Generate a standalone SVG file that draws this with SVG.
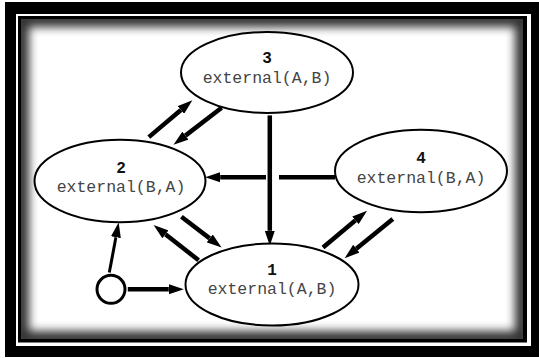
<svg xmlns="http://www.w3.org/2000/svg" width="539" height="358" viewBox="0 0 539 358">
  <style>
    .node ellipse { fill: #fff; stroke: #000; stroke-width: 2; }
    .num { font-family: "Liberation Mono", "DejaVu Sans Mono", monospace; font-size: 16px; font-weight: bold; fill: #111; text-anchor: middle; }
    .lbl { font-family: "Liberation Mono", "DejaVu Sans Mono", monospace; font-size: 16.5px; fill: #444; text-anchor: middle; }
    .edge { fill: none; stroke: #000; stroke-width: 4.5; marker-end: url(#ah); }
    .thin { stroke-width: 3; }
  </style>
  <defs>
    <marker id="ah" markerUnits="userSpaceOnUse" markerWidth="15" markerHeight="10" refX="0" refY="5" orient="auto">
      <path d="M0,0 L15,5 L0,10 z" fill="#000"/>
    </marker>
    <clipPath id="innerClip"><rect x="21" y="19" width="502" height="320"/></clipPath>
    <filter id="blur" x="-10%" y="-10%" width="120%" height="120%"><feGaussianBlur stdDeviation="5"/></filter>
  </defs>

  <!-- frame -->
  <g id="frame">
    <rect x="0" y="0" width="539" height="358" fill="#fff"/>
    <rect x="5" y="2" width="534" height="355" fill="#000"/>
    <rect x="16" y="14" width="515" height="332" fill="#fff"/>
    <rect x="18" y="16" width="509" height="326.5" fill="#000"/>
    <rect x="21" y="19" width="502" height="320" fill="#fff"/>
    <g clip-path="url(#innerClip)">
      <rect x="21" y="19" width="502" height="320" fill="none" stroke="#000" stroke-width="16" filter="url(#blur)" opacity="0.8"/>
    </g>
  </g>

  <!-- connectors -->
  <g id="connectors">
    <path class="edge" d="M148.8,137.1 L180.9,110.0"/>
    <path class="edge" d="M221.6,107.7 L185.4,135.6"/>
    <path class="edge" d="M269.8,115.4 L269.8,230.8"/>
    <path fill="none" stroke="#000" stroke-width="4.5" d="M335,177.3 H279"/>
    <path class="edge" d="M266,177.3 H220.2"/>
    <path class="edge" d="M181.4,216.7 L209.7,238.4"/>
    <path class="edge" d="M198.6,260.2 L165.4,234.3"/>
    <path class="edge" d="M323,247.5 L355.5,220.3"/>
    <path class="edge" d="M392.8,219 L356.3,248.7"/>
    <path class="edge thin" d="M109.3,272.6 L115.9,237.2"/>
    <path class="edge" d="M127.8,289.3 L168.8,289.3"/>
  </g>

  <!-- nodes -->
  <g id="node3" class="node">
    <ellipse cx="267" cy="72.5" rx="86" ry="40.5"/>
    <text class="num" x="267" y="62.5">3</text>
    <text class="lbl" x="267" y="82.5">external(A,B)</text>
  </g>
  <g id="node2" class="node">
    <ellipse cx="120" cy="181" rx="85.5" ry="41.3"/>
    <text class="num" x="121" y="172.5">2</text>
    <text class="lbl" x="121" y="192">external(B,A)</text>
  </g>
  <g id="node4" class="node">
    <ellipse cx="421" cy="171" rx="86" ry="41.3"/>
    <text class="num" x="421" y="163">4</text>
    <text class="lbl" x="421" y="182.5">external(B,A)</text>
  </g>
  <g id="node1" class="node">
    <ellipse cx="272" cy="284.5" rx="86.5" ry="41"/>
    <text class="num" x="272" y="274.5">1</text>
    <text class="lbl" x="272" y="294">external(A,B)</text>
  </g>
  <g id="start">
    <circle cx="111" cy="289.3" r="14" fill="#fff" stroke="#000" stroke-width="3"/>
  </g>
</svg>
